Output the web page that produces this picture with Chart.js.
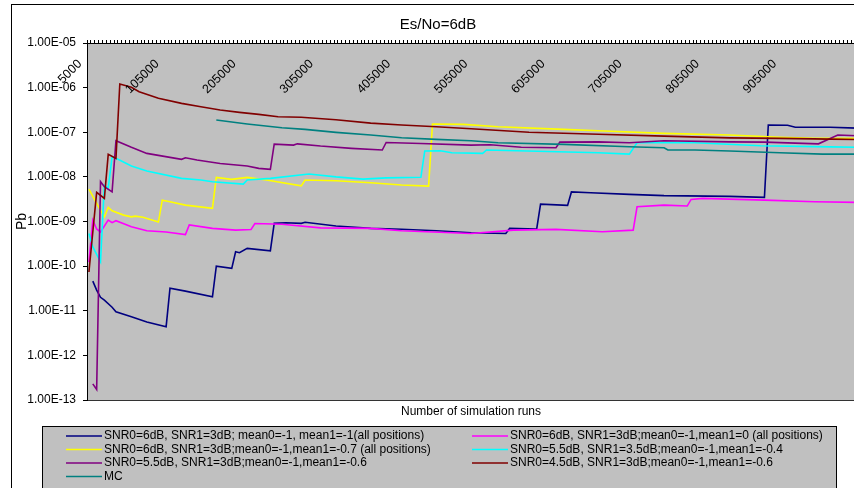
<!DOCTYPE html>
<html>
<head>
<meta charset="utf-8">
<script src="https://cdn.jsdelivr.net/npm/chart.js@4.4.0/dist/chart.umd.min.js"></script>
<style>
  html, body { margin:0; padding:0; background:#fff; overflow:hidden; }
  #wrap { width:854px; height:488px; overflow:hidden; position:relative; }
  #chart { position:absolute; left:0; top:0; }
</style>
</head>
<body>
<div id="wrap"><canvas id="chart" width="872" height="500"></canvas></div>
<script>
/* ---------- Data ---------- */
const seriesNames = [
  'SNR0=6dB, SNR1=3dB; mean0=-1, mean1=-1(all positions)',
  'SNR0=6dB, SNR1=3dB;mean0=-1,mean1=0 (all positions)',
  'SNR0=6dB, SNR1=3dB;mean0=-1,mean1=-0.7 (all positions)',
  'SNR0=5.5dB, SNR1=3.5dB;mean0=-1,mean1=-0.4',
  'SNR0=5.5dB, SNR1=3dB;mean0=-1,mean1=-0.6',
  'SNR0=4.5dB, SNR1=3dB;mean0=-1,mean1=-0.6',
  'MC'
];
const seriesColors = ['#000080', '#ff00ff', '#ffff00', '#00ffff', '#800080', '#800000', '#008080'];

const runsNavy = [10000,15000,20000,25000,35000,40000,60000,80000,105000,110000,130000,165000,170000,190000,195000,200000,210000,240000,245000,260000,280000,285000,325000,370000,410000,455000,500000,545000,550000,585000,590000,625000,630000,655000,705000,750000,835000,880000,885000,910000,920000,965000,1000000];
const pbNavy = [4.6e-11,2.9e-11,2.0e-11,1.73e-11,1.2e-11,9.5e-12,7.3e-12,5.6e-12,4.4e-12,3.2e-11,2.75e-11,2.05e-11,1.0e-10,8.9e-11,2.1e-10,2.0e-10,2.5e-10,2.2e-10,9.1e-10,9.4e-10,9.1e-10,9.6e-10,7.9e-10,7.0e-10,6.7e-10,6.2e-10,5.6e-10,5.4e-10,7.0e-10,6.8e-10,2.45e-9,2.3e-9,4.6e-9,4.4e-9,4.05e-9,3.8e-9,3.66e-9,3.47e-9,1.45e-7,1.43e-7,1.29e-7,1.29e-7,1.24e-7];

const runsMag = [5000,10000,15000,20000,30000,35000,40000,60000,80000,105000,130000,135000,165000,195000,215000,220000,255000,305000,370000,410000,500000,555000,610000,670000,710000,715000,750000,780000,785000,800000,880000,945000,1000000];
const pbMag = [1.23e-10,1.07e-9,6.8e-10,5.8e-10,1.07e-9,9.4e-10,1.04e-9,7.6e-10,6.2e-10,5.8e-10,5.1e-10,8.4e-10,7.0e-10,6.4e-10,6.6e-10,9.0e-10,8.7e-10,7.2e-10,7.0e-10,6.2e-10,5.4e-10,6.4e-10,6.65e-10,5.9e-10,6.4e-10,2.14e-9,2.33e-9,2.22e-9,3.13e-9,3.3e-9,3.02e-9,2.77e-9,2.68e-9];

const runsYel = [5000,15000,25000,30000,35000,50000,60000,65000,75000,95000,100000,110000,130000,165000,170000,190000,210000,235000,280000,285000,325000,370000,410000,445000,450000,490000,535000,620000,665000,750000,835000,900000,945000,1000000];
const pbYel = [5.3e-9,2.55e-9,1.26e-9,2.07e-9,1.74e-9,1.39e-9,1.27e-9,1.32e-9,1.24e-9,9.7e-10,3.0e-9,2.77e-9,2.33e-9,1.97e-9,9.75e-9,8.8e-9,9.75e-9,8.5e-9,6.3e-9,8.5e-9,8.2e-9,7.4e-9,6.55e-9,6.2e-9,1.53e-7,1.5e-7,1.33e-7,1.16e-7,1.08e-7,9.45e-8,8.65e-8,7.7e-8,7.3e-8,7.3e-8];

const runsCyan = [5000,10000,20000,25000,30000,35000,40000,60000,80000,125000,150000,165000,205000,210000,240000,290000,325000,360000,390000,435000,440000,460000,475000,515000,520000,665000,705000,715000,750000,790000,875000,965000,1000000];
const pbCyan = [5.4e-10,2.7e-10,1.25e-10,6.5e-9,5.6e-9,2.8e-8,2.6e-8,1.75e-8,1.35e-8,9.25e-9,8.5e-9,7.8e-9,6.9e-9,8.5e-9,9.25e-9,1.16e-8,1.0e-8,8.9e-9,9.5e-9,9.8e-9,3.8e-8,3.85e-8,3.47e-8,3.36e-8,4.0e-8,3.47e-8,3.24e-8,5.8e-8,5.9e-8,5.8e-8,5.0e-8,4.7e-8,4.6e-8];

const runsPur = [10000,15000,20000,25000,35000,40000,60000,80000,110000,125000,130000,145000,175000,210000,225000,240000,245000,270000,275000,305000,345000,385000,390000,435000,500000,525000,565000,610000,615000,665000,705000,750000,835000,880000,950000,975000,1000000];
const pbPur = [2.3e-13,1.72e-13,7.8e-9,6.0e-9,4.6e-9,6.45e-8,4.6e-8,3.36e-8,2.74e-8,2.47e-8,2.68e-8,2.38e-8,2.0e-8,1.75e-8,1.55e-8,1.47e-8,5.4e-8,5.15e-8,5.5e-8,4.9e-8,4.36e-8,4.0e-8,5.9e-8,5.6e-8,5.15e-8,5.25e-8,4.6e-8,4.5e-8,6.0e-8,6.1e-8,5.8e-8,6.45e-8,6.1e-8,6.0e-8,5.5e-8,8.65e-8,8.35e-8];

const runsRed = [5000,15000,25000,30000,40000,45000,60000,70000,95000,125000,150000,175000,200000,225000,250000,280000,325000,370000,410000,455000,500000,575000,665000,750000,835000,900000,965000,1000000];
const pbRed = [7.4e-11,4.5e-9,3.3e-9,3.2e-8,2.6e-8,1.21e-6,1.02e-6,8.1e-7,5.75e-7,4.44e-7,3.73e-7,3.15e-7,2.79e-7,2.52e-7,2.23e-7,2.16e-7,1.9e-7,1.6e-7,1.45e-7,1.33e-7,1.2e-7,1.0e-7,9.0e-8,8.2e-8,7.5e-8,7.3e-8,7.0e-8,6.9e-8];

const runsMC = [170000,210000,255000,285000,325000,370000,410000,455000,500000,535000,620000,705000,750000,755000,790000,835000,900000,955000,1000000];
const pbMC = [1.88e-7,1.53e-7,1.26e-7,1.16e-7,9.95e-8,8.65e-8,7.53e-8,6.93e-8,6.45e-8,5.82e-8,5.36e-8,4.73e-8,4.5e-8,4.0e-8,4.0e-8,3.8e-8,3.47e-8,3.24e-8,3.24e-8];

const xTickLabels = [5000,105000,205000,305000,405000,505000,605000,705000,805000,905000];
const yTicks = [1e-13,1e-12,1e-11,1e-10,1e-9,1e-8,1e-7,1e-6,1e-5];
const runStep = 5000;

/* ---------- Helpers ---------- */
const FONT = '"Liberation Sans", Arial, sans-serif';
function pts(xs, ys){ return xs.map((x,i)=>({x, y: ys[i]})); }
function fmtExp(v){
  const e = Math.round(Math.log10(v));
  return '1.00E' + (e < 0 ? '-' : '+') + String(Math.abs(e)).padStart(2,'0');
}

const allRuns = [runsNavy, runsMag, runsYel, runsCyan, runsPur, runsRed, runsMC];
const allPb = [pbNavy, pbMag, pbYel, pbCyan, pbPur, pbRed, pbMC];

const datasets = seriesNames.map((name,i)=>({
  label: name,
  data: pts(allRuns[i], allPb[i]),
  borderColor: seriesColors[i],
  backgroundColor: seriesColors[i],
  borderWidth: 1.6,
  pointRadius: 0,
  tension: 0,
  order: seriesNames.length - i
}));

/* ---------- Extra drawing: frame, titles, x labels, legend ---------- */
const excelLook = {
  id: 'excelLook',
  beforeDraw(chart){
    const {ctx, chartArea:a} = chart;
    ctx.save();
    ctx.fillStyle = '#fff';
    ctx.fillRect(0, 0, chart.width, chart.height);
    ctx.strokeStyle = '#000'; ctx.lineWidth = 1;
    ctx.strokeRect(11.5, 4.5, 860, 600);
    ctx.fillStyle = '#c0c0c0';
    ctx.fillRect(a.left, a.top, a.right - a.left, a.bottom - a.top);
    ctx.strokeStyle = '#333';
    ctx.strokeRect(a.left + 0.5, a.top + 0.5, a.right - a.left - 1, a.bottom - a.top);
    ctx.restore();
  },
  afterDraw(chart){
    const {ctx} = chart;
    const xs = chart.scales.x;
    ctx.save();
    ctx.fillStyle = '#000';
    // chart title
    ctx.font = '15px ' + FONT;
    ctx.textAlign = 'center'; ctx.textBaseline = 'middle';
    ctx.fillText('Es/No=6dB', 438, 25);
    // x axis title
    ctx.font = '12px ' + FONT;
    ctx.fillText('Number of simulation runs', 471, 412);
    // rotated category labels inside the plot
    ctx.font = '12.5px ' + FONT;
    ctx.textAlign = 'right';
    xTickLabels.forEach(v=>{
      const px = xs.getPixelForValue(v);
      ctx.save();
      ctx.translate(px - 9, 62);
      ctx.rotate(-Math.PI/4);
      ctx.fillText(String(v), 0, 0);
      ctx.restore();
    });
    // legend
    const L = {x:42.5, y:426.5, w:794, h:62};
    ctx.fillStyle = '#c0c0c0';
    ctx.fillRect(L.x, L.y, L.w, L.h);
    ctx.strokeStyle = '#000'; ctx.lineWidth = 1;
    ctx.strokeRect(L.x, L.y, L.w, L.h);
    ctx.font = '12px ' + FONT;
    ctx.textAlign = 'left'; ctx.textBaseline = 'middle';
    chart.data.datasets.forEach((ds,i)=>{
      const col = i % 2, row = Math.floor(i/2);
      const lx = col ? 472 : 66;
      const ly = 436 + row*13.5;
      ctx.strokeStyle = ds.borderColor; ctx.lineWidth = 1.6;
      ctx.beginPath(); ctx.moveTo(lx, ly); ctx.lineTo(lx + 36, ly); ctx.stroke();
      ctx.fillStyle = '#000';
      ctx.fillText(ds.label, lx + 38, ly);
    });
    ctx.restore();
  }
};

new Chart(document.getElementById('chart'), {
  type: 'line',
  data: { datasets },
  options: {
    responsive: false,
    devicePixelRatio: 1,
    animation: false,
    layout: { padding: { left: 0, right: 13, top: 37, bottom: 100 } },
    plugins: { legend: { display: false }, tooltip: { enabled: false }, title: { display: false } },
    scales: {
      x: {
        type: 'linear',
        position: 'top',
        min: runStep/2,
        max: 1000000 + runStep/2,
        afterBuildTicks: s => {
          const t = [];
          for (let v = runStep/2; v <= 1000000 + runStep/2; v += runStep) t.push({value: v});
          s.ticks = t;
        },
        afterFit: s => { s.height = 6; },
        ticks: { display: false },
        grid: { drawOnChartArea: false, tickLength: 3, color: '#000', lineWidth: 1 },
        border: { display: true, color: '#000', width: 1 }
      },
      y: {
        type: 'logarithmic',
        position: 'left',
        min: 1e-13,
        max: 1e-5,
        afterBuildTicks: s => { s.ticks = yTicks.map(v => ({value: v})); },
        afterFit: s => { s.width = 87; },
        ticks: { callback: v => fmtExp(v), font: { family: FONT, size: 12 }, color: '#000', padding: 7, autoSkip: false },
        grid: { drawOnChartArea: false, tickLength: 4, color: '#000' },
        border: { display: true, color: '#000', width: 1 },
        title: { display: true, text: 'Pb', font: { family: FONT, size: 14 }, color: '#000', padding: { top: 14, bottom: 0 } }
      }
    }
  },
  plugins: [excelLook]
});
</script>
</body>
</html>
